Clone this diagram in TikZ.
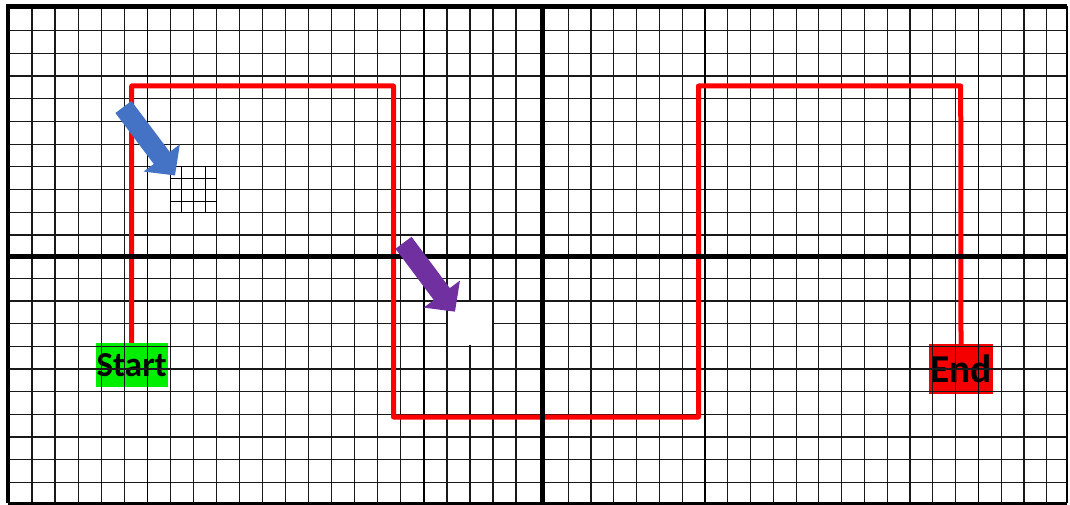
\documentclass[tikz,border=0pt]{standalone}
\usepackage{fontspec}
\setmainfont{Carlito}
\usetikzlibrary{arrows.meta}
\definecolor{routered}{RGB}{255,0,0}
\definecolor{startgreen}{RGB}{0,238,0}
\definecolor{endred}{RGB}{245,0,0}
\definecolor{pointerblue}{RGB}{68,114,196}
\definecolor{pointerpurple}{RGB}{112,48,160}
\tikzset{gridline/.style={line width=1.2pt,black!90},
  fineline/.style={line width=.8pt,black},
  axisline/.style={line width=5pt,black},
  route/.style={line width=5pt,routered,line join=round},
  tagbox/.style={inner sep=0pt,font=\bfseries,text=black},
  pointer/.style={line width=20pt,-{Triangle[length=22pt,width=44pt]}}}

\begin{document}
\begin{tikzpicture}[x=1pt,y=-1pt]
  \path[use as bounding box] (0,0) rectangle (1070,505);
  % labels sit under the paper lines
  \node[tagbox,fill=startgreen,minimum width=72pt,minimum height=43.7pt,
    font=\fontsize{35}{35}\selectfont\bfseries] (start) at (131.7,365) {Start};
  \node[tagbox,fill=endred,minimum width=64pt,minimum height=50pt,
    font=\fontsize{39.5}{39.5}\selectfont\bfseries] (end) at (961,369) {End};
  % graph paper
  \foreach \i in {0,...,21}{
    \draw[gridline] ({32+\i*23.05},8) -- ({32+\i*23.05},503);
    \draw[gridline] ({568.3+\i*22.78},8) -- ({568.3+\i*22.78},503);
  }
  \foreach \j in {0,...,9}{
    \draw[gridline] (8,{30.7+\j*22.7}) -- (1067,{30.7+\j*22.7});
    \draw[gridline] (8,{278.3+\j*22.67}) -- (1067,{278.3+\j*22.67});
  }
  \foreach \x in {147.3,423.9,705,978.3} \draw[line width=1.6pt] (\x,8) -- (\x,503);
  % magnified cells
  \fill[white] (171.2,167.8) rectangle (215.5,211.4);
  \foreach \x in {170.3,181.8,193.35,204.9,216.4} \draw[fineline] (\x,166.9) -- (\x,212.3);
  \foreach \y in {166.9,178.25,189.6,200.95,212.3} \draw[fineline] (170.3,\y) -- (216.4,\y);
  \fill[white] (447.8,301.9) rectangle (492.1,345.4);
  % route
  \coordinate (turnA) at (393.5,86);
  \coordinate (turnB) at (698.5,417);
  \coordinate (turnC) at (960.7,86);
  \draw[route] (start.north) |- (turnA) |- (turnB) |- (turnC) -- (end.north);
  % frame and axes
  \draw[axisline] (542,6.5) -- (542,503);
  \draw[axisline] (8,256) -- (1067,256);
  \draw[line width=4.5pt] (8,503) -- (8,6.5) -- (1067,6.5);
  \draw[line width=3pt] (8,503) -- (1067,503);
  \draw[line width=2pt] (1067,6.5) -- (1067,503);
  % pointers
  \coordinate (blueTail) at (123.4,107);
  \coordinate (blueTip) at (175,175.5);
  \coordinate (purpleTail) at (403.5,242.8);
  \coordinate (purpleTip) at (455,311.7);
  \draw[pointer,pointerblue] (blueTail) -- (blueTip);
  \draw[pointer,pointerpurple] (purpleTail) -- (purpleTip);
\end{tikzpicture}
\end{document}
